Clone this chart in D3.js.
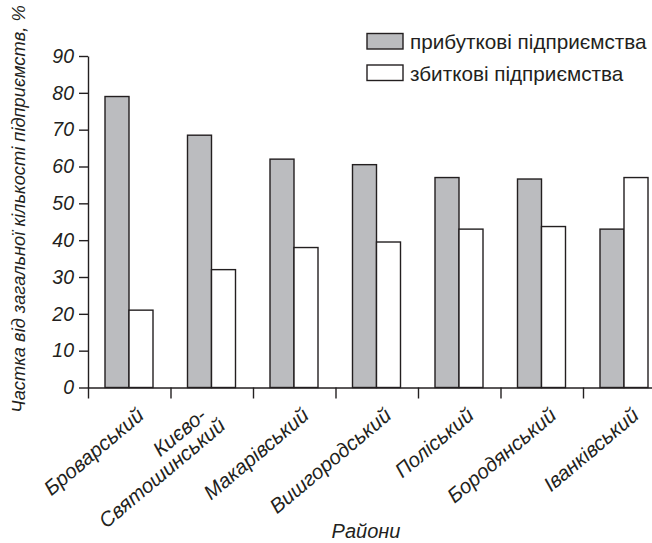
<!DOCTYPE html>
<html>
<head>
<meta charset="utf-8">
<script src="https://cdn.jsdelivr.net/npm/d3@7"></script>
<style>
  body { margin: 0; background: #fff; }
  text { font-family: 'Liberation Sans', Arial, sans-serif; fill: #231f20; }
</style>
</head>
<body>
<div id="chart"></div>
<script>
let districts = ['Броварський', 'Києво-|Святошинський', 'Макарівський', 'Вишгородський', 'Поліський', 'Бородянський', 'Іванківський']
let profitable = [79, 68.5, 62, 60.5, 57, 56.6, 43]
let unprofitable = [21, 32, 38, 39.5, 43, 43.7, 57]
let seriesNames = ['прибуткові підприємства', 'збиткові підприємства']
let yTicks = [0, 10, 20, 30, 40, 50, 60, 70, 80, 90]

let width = 652
let height = 543
let left = 88
let bandW = 82.5
let y0 = 387.5
let yTop = 56
let gray = '#bbbcbf'
let ink = '#231f20'

let svg = d3.select('#chart').append('svg')
    .attr('width', width)
    .attr('height', height)

let x = d3.scaleBand()
    .domain(districts)
    .range([left, left + bandW * districts.length])
    .padding(0)
let x1 = d3.scaleBand()
    .domain(['p', 'u'])
    .range([17, 65])
let y = d3.scaleLinear()
    .domain([0, 90])
    .range([y0, yTop])

let rows = districts.map((d, i) => ({ name: d, p: profitable[i], u: unprofitable[i] }))

// bars
let groups = svg.append('g').selectAll('g')
    .data(rows)
    .join('g')
    .attr('transform', d => `translate(${x(d.name)},0)`)
groups.selectAll('rect')
    .data(d => [{ k: 'p', v: d.p }, { k: 'u', v: d.u }])
    .join('rect')
    .attr('x', d => x1(d.k))
    .attr('y', d => y(d.v))
    .attr('width', x1.bandwidth())
    .attr('height', d => y0 - y(d.v))
    .attr('fill', d => d.k == 'p' ? gray : '#fff')
    .attr('stroke', ink)
    .attr('stroke-width', 1.4)

// y axis
let yAxis = svg.append('g')
    .attr('transform', `translate(${left},0)`)
    .call(d3.axisLeft(y).tickValues(yTicks).tickSize(9).tickSizeOuter(0).tickPadding(5))
yAxis.selectAll('path, line').attr('stroke', ink).attr('stroke-width', 1.4)
yAxis.selectAll('text')
    .attr('font-size', 19.5)
    .attr('font-style', 'italic')
    .attr('font-family', "'Liberation Sans', Arial, sans-serif")
    .attr('fill', ink)

// x axis, ticks on band edges
let xEdges = d3.scaleLinear()
    .domain([0, districts.length])
    .range([left, left + bandW * districts.length])
let xAxis = svg.append('g')
    .attr('transform', `translate(0,${y0})`)
    .call(d3.axisBottom(xEdges).ticks(districts.length).tickSize(11).tickSizeOuter(0).tickFormat(''))
xAxis.selectAll('path, line').attr('stroke', ink).attr('stroke-width', 1.4)

// category labels (end of text sits under the band)
let labels = svg.append('g').selectAll('text')
    .data(districts)
    .join('text')
    .attr('transform', d => {
        let shift = d.includes('|') ? -20 : 0
        return `translate(${x(d) + bandW / 2 + 16 + shift},${y0 + 30}) rotate(-40)`
    })
    .attr('text-anchor', 'end')
    .attr('font-size', 20.5)
    .attr('font-style', 'italic')
labels.selectAll('tspan')
    .data(d => d.split('|'))
    .join('tspan')
    .attr('x', (d, i) => i == 0 ? 0 : 8)
    .attr('dy', (d, i) => i == 0 ? 0 : '0.98em')
    .text(d => d)

// axis titles
svg.append('text')
    .attr('transform', `translate(25,209) rotate(-90)`)
    .attr('text-anchor', 'middle')
    .attr('font-size', 18.3)
    .attr('font-style', 'italic')
    .text('Частка від загальної кількості підприємств, %')

svg.append('text')
    .attr('x', 366)
    .attr('y', 538)
    .attr('text-anchor', 'middle')
    .attr('font-size', 20)
    .attr('font-style', 'italic')
    .text('Райони')

// legend
let legend = svg.append('g').selectAll('g')
    .data(seriesNames)
    .join('g')
    .attr('transform', (d, i) => `translate(367,${33.5 + i * 31.5})`)
legend.append('rect')
    .attr('width', 36)
    .attr('height', 15.5)
    .attr('fill', (d, i) => i == 0 ? gray : '#fff')
    .attr('stroke', ink)
    .attr('stroke-width', 1.4)
legend.append('text')
    .attr('x', 43)
    .attr('y', 15.5)
    .attr('font-size', 20.7)
    .text(d => d)
</script>
</body>
</html>
